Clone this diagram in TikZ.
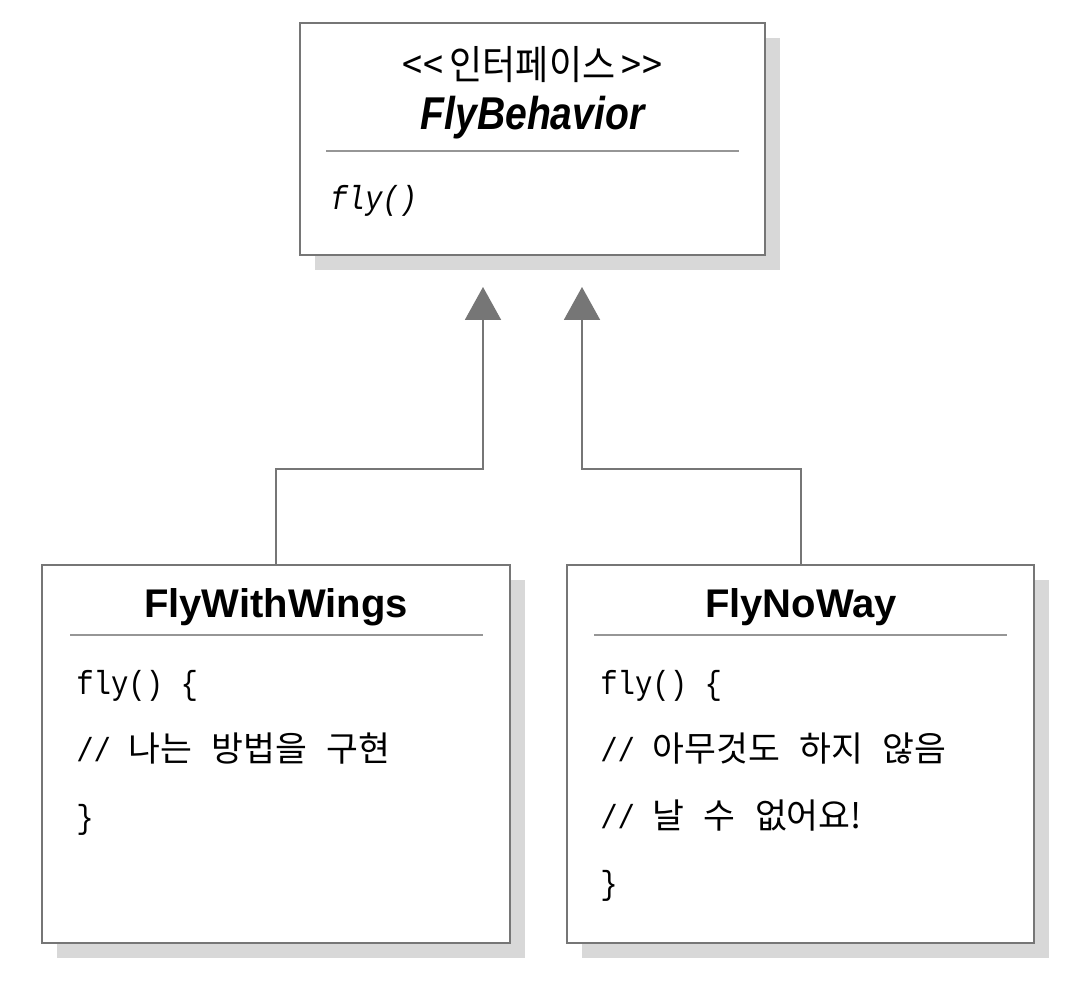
\documentclass[tikz,border=0pt]{standalone}
\usepackage{fontspec}
\setmainfont{Liberation Sans}
\newfontfamily\krfont[WordSpace=2.5]{Noto Sans CJK KR}
\newfontfamily\codefont{Liberation Mono}
\usetikzlibrary{arrows.meta,calc,shadows}
\definecolor{edge}{RGB}{118,118,118}
\definecolor{rule}{RGB}{150,150,150}
\definecolor{shade}{RGB}{216,216,216}

\newcommand{\codeline}[1]{\scalebox{0.87}[1]{\codefont\fontsize{25}{30}\selectfont #1}}
\newcommand{\krline}[1]{{\krfont\fontsize{26}{30}\selectfont #1}}

\begin{document}
\begin{tikzpicture}[x=0.75pt,y=0.75pt,
    classbox/.style={draw=edge,line width=1.5pt,fill=white,inner sep=0pt,
      drop shadow={shadow xshift=11.25pt,shadow yshift=-11.25pt,fill=shade,opacity=1}},
    divider/.style={draw=rule,line width=0.8pt},
    classname/.style={anchor=base,inner sep=0pt,font=\bfseries\fontsize{30}{36}\selectfont},
    member/.style={anchor=base west,inner sep=0pt},
    realize/.style={draw=edge,line width=1.5pt,-{Triangle[width=27pt,length=24.75pt]},
      shorten >=23.25pt}]

  \useasboundingbox (0,0) rectangle (1067,1000);

  % Interface box.
  \node[classbox,minimum width=348.75pt,minimum height=174pt] (behavior) at (532.5,861) {};
  \draw[divider] ($(behavior.north west)+(27,-129)$) -- ($(behavior.north east)+(-27,-129)$);
  \node[anchor=base,inner sep=0pt] (stereo) at (532.5,920)
    {\scalebox{0.9}[1]{\krfont\fontsize{30}{36}\selectfont <\kern1pt<\kern5pt 인터페이스\kern5pt >\kern1pt>}};
  \node[anchor=base,inner sep=0pt] (iname) at (532.5,870)
    {\scalebox{0.85}[1]{\bfseries\itshape\fontsize{34.5}{40}\selectfont FlyBehavior}};
  \node[member] (iop) at (330,790) {\codeline{\itshape fly()}};

  % Implementing classes.
  \node[classbox,minimum width=351pt,minimum height=283.5pt] (wings) at (276,246) {};
  \node[classbox,minimum width=350.25pt,minimum height=283.5pt] (noway) at (800.5,246) {};

  \draw[divider] ($(wings.north west)+(29,-71)$) -- ($(wings.north east)+(-28,-71)$);
  \draw[divider] ($(noway.north west)+(28,-71)$) -- ($(noway.north east)+(-28,-71)$);

  \node[classname] (wname) at (276,382) {FlyWithWings};
  \node[classname] (nname) at (801,382) {FlyNoWay};

  % FlyWithWings body
  \node[member] (w1) at (76,305) {\codeline{fly() \{}};
  \node[member] (w2) at (76,238.5) {\codeline{// }\krline{나는 방법을 구현}};
  \node[member] (w3) at (76,172) {\codeline{\}}};

  % FlyNoWay body
  \node[member] (n1) at (600,305) {\codeline{fly() \{}};
  \node[member] (n2) at (600,238.5) {\codeline{// }\krline{아무것도 하지 않음}};
  \node[member] (n3) at (600,172) {\codeline{// }\krline{날 수 없어요!}};
  \node[member] (n4) at (600,105.5) {\codeline{\}}};

  % Realization arrows.
  \draw[realize] (wings.north) -- ++(0,95) -| ($(behavior.south)+(-49.5,0)$);
  \draw[realize] (noway.north) -- ++(0,95) -| ($(behavior.south)+(49.5,0)$);

\end{tikzpicture}
\end{document}
